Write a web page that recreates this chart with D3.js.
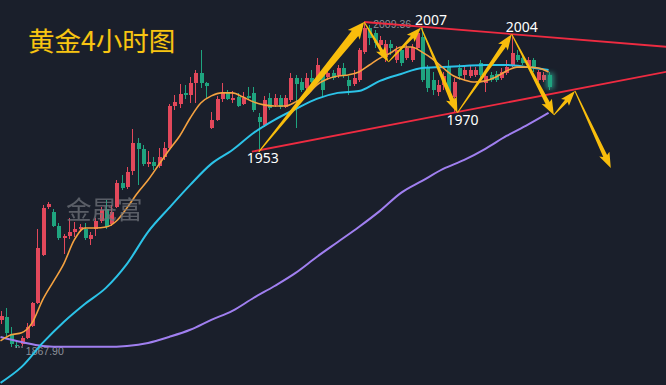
<!DOCTYPE html>
<html>
<head>
<meta charset="utf-8">
<script src="https://cdn.jsdelivr.net/npm/d3@7"></script>
<style>
body { margin: 0; background: #1a1f2b; }
svg { display: block; }
</style>
</head>
<body>
<div class="container"></div>
<script>
const wd = 666
const ht = 385

// 4h bars, oldest first: [open, high, low, close]
const bars = [
  [1880.1, 1884.0, 1878.4, 1881.8], [1881.4, 1885.3, 1873.2, 1874.5], [1874.0, 1877.1, 1868.4, 1869.7],
  [1869.2, 1871.0, 1867.9, 1868.8], [1869.7, 1873.2, 1868.8, 1872.3], [1872.3, 1878.8, 1871.9, 1877.1],
  [1877.5, 1887.9, 1877.1, 1887.5], [1887.5, 1919.6, 1887.0, 1911.3], [1908.3, 1930.0, 1907.8, 1928.7],
  [1929.1, 1931.3, 1928.2, 1930.4], [1926.9, 1928.2, 1920.4, 1920.9], [1920.9, 1922.2, 1914.8, 1915.7],
  [1915.7, 1917.4, 1908.7, 1916.5], [1916.5, 1924.3, 1915.2, 1918.3], [1918.3, 1922.6, 1916.1, 1919.6],
  [1919.6, 1921.7, 1918.3, 1920.4], [1919.6, 1922.2, 1914.8, 1915.7], [1915.2, 1918.3, 1912.6, 1917.0],
  [1919.6, 1924.3, 1916.5, 1923.0], [1923.0, 1929.1, 1922.2, 1927.8], [1928.2, 1932.1, 1919.6, 1920.4],
  [1921.7, 1930.0, 1920.9, 1926.9], [1929.1, 1940.8, 1928.7, 1939.5], [1939.5, 1943.0, 1936.5, 1937.4],
  [1937.8, 1946.5, 1936.9, 1944.3], [1944.7, 1962.9, 1943.0, 1956.9], [1956.9, 1959.0, 1938.6, 1954.3],
  [1954.3, 1956.0, 1946.9, 1947.8], [1947.8, 1953.4, 1946.5, 1948.6], [1948.6, 1950.8, 1945.2, 1946.9],
  [1946.9, 1954.7, 1946.0, 1950.8], [1950.8, 1957.3, 1949.5, 1954.7], [1954.7, 1973.8, 1953.8, 1972.9],
  [1972.9, 1977.7, 1971.2, 1974.7], [1973.8, 1982.5, 1972.1, 1978.1], [1978.6, 1982.0, 1976.0, 1977.7],
  [1977.7, 1985.5, 1974.2, 1982.9], [1982.9, 1988.5, 1974.2, 1987.2], [1987.2, 1997.2, 1980.7, 1982.9],
  [1982.9, 1983.3, 1976.4, 1981.6], [1963.4, 1970.3, 1962.9, 1966.9], [1966.9, 1977.3, 1966.4, 1976.0],
  [1976.0, 1982.9, 1974.7, 1978.6], [1978.6, 1979.9, 1975.5, 1976.0], [1975.5, 1979.4, 1974.2, 1976.4],
  [1976.8, 1978.6, 1972.5, 1972.9], [1973.8, 1979.0, 1973.4, 1976.4], [1977.3, 1981.2, 1975.5, 1976.4],
  [1978.6, 1981.2, 1970.3, 1971.2], [1968.0, 1970.0, 1953.0, 1966.0], [1964.7, 1977.3, 1963.8, 1975.5],
  [1976.4, 1978.6, 1971.2, 1972.1], [1973.4, 1978.1, 1972.5, 1976.4], [1976.4, 1977.7, 1971.6, 1972.5],
  [1972.5, 1977.7, 1972.1, 1976.4], [1975.5, 1987.2, 1974.7, 1985.1], [1985.1, 1986.4, 1963.4, 1982.5],
  [1983.3, 1985.1, 1979.0, 1979.9], [1980.7, 1987.2, 1979.9, 1985.1], [1985.1, 1988.5, 1982.0, 1983.3],
  [1985.5, 1993.7, 1983.3, 1990.7], [1987.7, 1988.5, 1976.8, 1979.9], [1985.5, 1989.4, 1984.2, 1987.2],
  [1987.2, 1988.5, 1984.2, 1985.1], [1986.4, 1990.7, 1985.1, 1989.4], [1989.4, 1991.6, 1985.1, 1986.4],
  [1984.2, 1985.9, 1977.7, 1981.6], [1982.5, 1988.5, 1981.6, 1985.1], [1984.2, 1998.1, 1983.3, 1997.2],
  [1996.3, 2009.36, 1995.5, 2006.8], [2006.8, 2008.1, 1999.4, 2002.4], [2004.6, 2005.9, 1998.1, 2000.3],
  [1999.4, 2003.3, 1996.3, 2001.6], [1994.2, 2001.6, 1992.0, 1999.8], [1999.8, 2001.6, 1995.0, 1998.1],
  [1992.9, 1999.0, 1991.6, 1997.2], [1997.2, 1998.5, 1990.3, 1991.6], [1993.7, 1999.4, 1992.9, 1998.1],
  [1992.9, 1999.8, 1992.0, 1998.5], [1998.1, 2005.5, 1997.2, 2004.6], [2002.9, 2007.0, 1983.3, 1984.2],
  [1989.4, 1990.7, 1979.0, 1980.7], [1984.2, 1987.7, 1977.7, 1979.9], [1979.0, 1984.2, 1977.3, 1982.0],
  [1982.0, 1987.7, 1979.9, 1985.9], [1990.3, 1992.9, 1977.3, 1979.0], [1976.8, 1985.1, 1970.0, 1983.3],
  [1989.4, 1991.1, 1984.2, 1985.9], [1986.4, 1990.3, 1984.2, 1988.5], [1985.9, 1990.3, 1985.1, 1988.5],
  [1986.4, 1989.8, 1985.5, 1988.5], [1991.6, 1992.9, 1985.1, 1986.4], [1982.9, 1987.7, 1979.0, 1985.9],
  [1986.4, 1987.7, 1983.3, 1984.2], [1986.8, 1988.1, 1983.3, 1984.2], [1985.1, 1989.4, 1984.2, 1987.7],
  [1987.2, 1992.9, 1986.4, 1989.8], [1990.7, 2004.0, 1989.8, 1995.9], [1995.0, 1997.2, 1992.0, 1992.9],
  [1993.7, 1995.0, 1990.7, 1991.6], [1990.3, 1994.2, 1989.4, 1992.9], [1992.9, 1993.7, 1987.7, 1989.4],
  [1984.2, 1988.5, 1983.3, 1987.7], [1984.2, 1987.7, 1983.3, 1986.4], [1986.4, 1987.7, 1979.9, 1981.2]
]

// moving averages, read every 2nd / 4th bar
const maFastIdx = d3.range(0, 105, 2)
const maFast = [1871.0, 1873.6, 1874.5, 1878.8, 1888.8, 1896.6, 1904.4, 1914.8, 1920.0, 1920.0,
  1920.4, 1923.0, 1928.7, 1935.2, 1940.8, 1947.3, 1953.8, 1959.9, 1967.7, 1974.2,
  1977.3, 1978.6, 1978.6, 1976.8, 1974.7, 1973.4, 1972.9, 1972.9, 1974.7, 1977.3,
  1982.0, 1984.6, 1985.9, 1986.4, 1987.7, 1990.7, 1993.7, 1995.9, 1998.5, 1998.5,
  1996.3, 1993.3, 1989.4, 1985.9, 1984.2, 1983.3, 1983.8, 1985.5, 1988.1, 1989.8,
  1989.8, 1989.4, 1987.7]
const maSlowIdx = d3.range(0, 105, 4)
const maMid = [1852.8, 1859.7, 1870.1, 1879.2, 1887.0, 1894.0, 1904.4, 1918.3, 1928.7, 1938.7,
  1947.8, 1953.8, 1961.2, 1966.9, 1971.6, 1976.0, 1978.6, 1979.4, 1983.8, 1986.8,
  1989.4, 1989.8, 1990.3, 1990.7, 1990.7, 1989.8, 1988.5]
const maLong = [1872.7, 1870.5, 1868.8, 1868.4, 1868.4, 1868.4, 1868.8, 1870.1, 1872.7, 1875.8,
  1880.1, 1884.0, 1889.6, 1894.8, 1900.5, 1907.4, 1913.9, 1920.4, 1927.4, 1935.2,
  1940.4, 1945.6, 1949.5, 1954.3, 1959.9, 1964.7, 1969.9]

// trend lines [bar index, price]
const upperLine = [[69, 2009.36], [126.4, 1998.6]]
const lowerLine = [[47.7, 1953.1], [126.4, 1987.8]]

// swing path drawn as arrows
const swings = [[49, 1953.0], [69, 2009.36], [73.6, 1992.0], [79.8, 2007.0], [86.7, 1970.0],
  [97, 2004.0], [105, 1969.0], [109, 1979.4], [115.8, 1946.0]]
const swingLabels = [["1953", 0], ["2007", 3], ["1970", 4], ["2004", 5]]

const svgC = d3.select(".container")
  .append("svg")
  .attr("width", wd)
  .attr("height", ht)

svgC.append("rect").attr("width", wd).attr("height", ht).attr("fill", "#1a1f2b")

const x = d3.scaleLinear().domain([0, bars.length - 1]).range([0.5, 548.6])
const y = d3.scaleLinear().domain([1867.9, 2009.36]).range([348, 22])

const red = "#e2485b"
const green = "#1fa47f"

const defs = svgC.append("defs")
defs.append("filter").attr("id", "glow").attr("x", "-200%").attr("y", "-100%").attr("width", "500%").attr("height", "300%")
  .append("feGaussianBlur").attr("stdDeviation", 2.5)

// candles
const candleG = svgC.append("g").attr("shape-rendering", "crispEdges")
bars.forEach((b, i) => {
  const col = b[3] >= b[0] ? red : green
  const cx = Math.round(x(i))
  const top = y(Math.max(b[0], b[3]))
  const h = Math.max(1, Math.abs(y(b[0]) - y(b[3])))
  if (i == bars.length - 1) {
    candleG.append("rect")
      .attr("x", cx - 3).attr("y", top - 2).attr("width", 8).attr("height", h + 4)
      .attr("fill", "#35d6b4").attr("opacity", 0.55)
      .attr("filter", "url(#glow)").attr("shape-rendering", "auto")
  }
  candleG.append("line")
    .attr("x1", cx + 0.5).attr("x2", cx + 0.5)
    .attr("y1", y(b[1])).attr("y2", y(b[2]))
    .attr("stroke", col).attr("stroke-width", 1)
  candleG.append("rect")
    .attr("x", cx - 1.5).attr("y", top)
    .attr("width", 4).attr("height", h)
    .attr("fill", col)
})

// extreme price markers
const hiI = d3.maxIndex(bars, d => d[1])
const loI = d3.minIndex(bars, d => d[2])
const markG = svgC.append("g").attr("font-family", "Liberation Sans, Arial, sans-serif")
  .attr("font-size", 10.5).attr("fill", "#8d919a")
markG.append("line")
  .attr("x1", x(hiI) + 1).attr("x2", x(hiI) + 9)
  .attr("y1", y(bars[hiI][1]) + 0.5).attr("y2", y(bars[hiI][1]) + 0.5)
  .attr("stroke", "#c8ccd2").attr("stroke-dasharray", "1.5,1.5")
markG.append("text").attr("x", x(hiI) + 9).attr("y", y(bars[hiI][1]) + 6)
  .text(bars[hiI][1].toFixed(2))
markG.append("line")
  .attr("x1", x(loI) - 1).attr("x2", x(loI) + 8)
  .attr("y1", y(bars[loI][2]) - 1).attr("y2", y(bars[loI][2]) - 1)
  .attr("stroke", "#c8ccd2").attr("stroke-dasharray", "1.5,1.5")
markG.append("text").attr("x", x(loI) + 9.5).attr("y", y(bars[loI][2]) + 6.5)
  .text(bars[loI][2].toFixed(2))

// moving averages
const maLine = d3.line()
  .x(d => x(d[0]))
  .y(d => y(d[1]))
  .curve(d3.curveMonotoneX)

const maG = svgC.append("g").attr("fill", "none")
maG.append("path").attr("d", maLine(maSlowIdx.map((d, i) => [d, maLong[i]])))
  .attr("stroke", "#a07ff0").attr("stroke-width", 2)
maG.append("path").attr("d", maLine(maSlowIdx.map((d, i) => [d, maMid[i]])))
  .attr("stroke", "#2cc3e8").attr("stroke-width", 2)
maG.append("path").attr("d", maLine(maFastIdx.map((d, i) => [d, maFast[i]])))
  .attr("stroke", "#f5a240").attr("stroke-width", 1.6)

// trend lines
const tl = d3.line().x(d => x(d[0])).y(d => y(d[1]))
svgC.append("path").attr("d", tl(upperLine)).attr("stroke", "#ee2b41").attr("stroke-width", 1.8).attr("fill", "none")
svgC.append("path").attr("d", tl(lowerLine)).attr("stroke", "#ee2b41").attr("stroke-width", 1.8).attr("fill", "none")

// tapered arrows between swing points
function arrowPath(a, b) {
  const x0 = x(a[0]), y0 = y(a[1]), x1 = x(b[0]), y1 = y(b[1])
  const dx = x1 - x0, dy = y1 - y0
  const len = Math.hypot(dx, dy)
  const ux = dx / len, uy = dy / len, nx = -uy, ny = ux
  const sw = Math.max(3.5, Math.min(8.5, len * 0.05))
  const hw = sw + 7
  const hl = 12 + sw * 0.3
  const bx = x1 - ux * hl, by = y1 - uy * hl
  const pts = [
    [x0 + nx * 0.5, y0 + ny * 0.5],
    [bx + nx * sw / 2, by + ny * sw / 2],
    [bx + nx * hw / 2 - ux * 2, by + ny * hw / 2 - uy * 2],
    [x1, y1],
    [bx - nx * hw / 2 - ux * 2, by - ny * hw / 2 - uy * 2],
    [bx - nx * sw / 2, by - ny * sw / 2],
    [x0 - nx * 0.5, y0 - ny * 0.5]
  ]
  return "M" + pts.map(p => p.join(",")).join("L") + "Z"
}

const arrowG = svgC.append("g")
for (let k = 0; k < swings.length - 1; k++) {
  arrowG.append("path")
    .attr("d", arrowPath(swings[k], swings[k + 1]))
    .attr("fill", "#f8bd0c")
}

// swing labels
const labelOffset = { "1953": [4, 11.5], "2007": [10, -2.5], "1970": [5, 12.5], "2004": [10, -2] }
svgC.append("g")
  .selectAll("text")
  .data(swingLabels)
  .join("text")
  .attr("x", d => x(swings[d[1]][0]) + labelOffset[d[0]][0])
  .attr("y", d => y(swings[d[1]][1]) + labelOffset[d[0]][1])
  .attr("text-anchor", "middle")
  .attr("font-family", "Noto Sans, sans-serif")
  .attr("font-size", 14)
  .attr("fill", "#ffffff")
  .text(d => d[0])

// watermark
svgC.append("text")
  .attr("x", 66).attr("y", 219)
  .attr("font-family", "Noto Sans CJK SC")
  .attr("font-size", 25.5)
  .attr("fill", "#70747b").attr("opacity", 0.75)
  .text("金晟富")

// title
svgC.append("text")
  .attr("x", 28).attr("y", 51)
  .attr("font-family", "Noto Sans CJK SC")
  .attr("font-size", 26.5)
  .attr("fill", "#f8c512")
  .attr("stroke", "#3a3320").attr("stroke-width", 0.6)
  .attr("paint-order", "stroke")
  .text("黄金4小时图")
</script>
</body>
</html>
